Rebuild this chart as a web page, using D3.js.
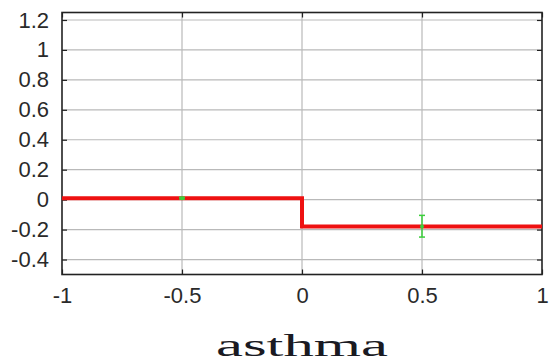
<!DOCTYPE html>
<html>
<head>
<meta charset="utf-8">
<script src="https://cdn.jsdelivr.net/npm/d3@7"></script>
<style>
  body { margin: 0; background: #fff; }
  svg { display: block; }
</style>
</head>
<body>
<svg id="chart" width="551" height="364"></svg>
<script>
'use strict'

// step function (red line)
var stepX = [-1, 0, 1]
var stepY = [0.01, -0.18, -0.18]

// green estimates with error bars
var pointX = [-0.5, 0.5]
var pointY = [0.01, -0.18]
var pointLo = [0.004, -0.25]
var pointHi = [0.016, -0.105]

var xTicks = [-1, -0.5, 0, 0.5, 1]
var yTicks = [-0.4, -0.2, 0, 0.2, 0.4, 0.6, 0.8, 1, 1.2]
var xTitle = 'asthma'

var width = 551
var height = 364
var margin = { top: 12.5, right: 9, bottom: 89.5, left: 62 }
var svg = d3.select('#chart')

var x = d3.scaleLinear()
  .domain([-1, 1])
  .range([margin.left, width - margin.right])
var y = d3.scaleLinear()
  .domain([-0.5, 1.25])
  .range([height - margin.bottom, margin.top])

var fmt = (d) => String(d)

// grid
var grid = svg.append('g').attr('class', 'grid')
grid.selectAll('line.gx')
  .data(xTicks.slice(1, -1))
  .enter().append('line')
    .attr('x1', (d) => x(d)).attr('x2', (d) => x(d))
    .attr('y1', y.range()[0]).attr('y2', y.range()[1])
grid.selectAll('line.gy')
  .data(yTicks)
  .enter().append('line')
    .attr('x1', x.range()[0]).attr('x2', x.range()[1])
    .attr('y1', (d) => y(d)).attr('y2', (d) => y(d))
grid.selectAll('line')
  .attr('stroke', '#b9b9b9')
  .attr('stroke-width', 1.2)

// axes with inward ticks
function styleAxis (g) {
  g.select('.domain').remove()
  g.selectAll('.tick line').attr('stroke', '#222').attr('stroke-width', 1.2)
  g.selectAll('.tick text')
    .attr('fill', '#2a2a2a')
    .style('font-family', '"Liberation Sans", Arial, sans-serif')
    .style('font-size', '22px')
}

svg.append('g')
  .attr('transform', 'translate(0,' + y.range()[0] + ')')
  .call(d3.axisBottom(x).tickValues(xTicks).tickFormat(fmt).tickSizeInner(-5).tickSizeOuter(0).tickPadding(13))
  .call(styleAxis)
  .selectAll('.tick text').attr('dy', '0.71em')

svg.append('g')
  .attr('transform', 'translate(' + x.range()[0] + ',0)')
  .call(d3.axisLeft(y).tickValues(yTicks).tickFormat(fmt).tickSizeInner(-5).tickSizeOuter(0).tickPadding(13))
  .call(styleAxis)

svg.append('g')
  .attr('transform', 'translate(' + x.range()[1] + ',0)')
  .call(d3.axisRight(y).tickValues(yTicks).tickFormat('').tickSizeInner(-5).tickSizeOuter(0))
  .call(styleAxis)

svg.append('g')
  .attr('transform', 'translate(0,' + y.range()[1] + ')')
  .call(d3.axisTop(x).tickValues(xTicks).tickFormat('').tickSizeInner(-5).tickSizeOuter(0))
  .call(styleAxis)

// frame
svg.append('rect')
  .attr('x', x.range()[0])
  .attr('y', y.range()[1])
  .attr('width', x.range()[1] - x.range()[0])
  .attr('height', y.range()[0] - y.range()[1])
  .attr('fill', 'none')
  .attr('stroke', '#222')
  .attr('stroke-width', 1.6)

// red step line
var line = d3.line()
  .x((d, i) => x(stepX[i]))
  .y((d, i) => y(stepY[i]))
  .curve(d3.curveStepAfter)

svg.append('path')
  .datum(stepX)
  .attr('d', line)
  .attr('fill', 'none')
  .attr('stroke', '#ee1111')
  .attr('stroke-width', 4)

// green error bars
var green = '#3ccf3c'
var err = svg.append('g').attr('class', 'errors')
pointX.forEach((px, i) => {
  var cx = x(px)
  err.append('line')
    .attr('x1', cx).attr('x2', cx)
    .attr('y1', y(pointLo[i])).attr('y2', y(pointHi[i]))
  err.append('line')
    .attr('x1', cx - 3).attr('x2', cx + 3)
    .attr('y1', y(pointLo[i])).attr('y2', y(pointLo[i]))
  err.append('line')
    .attr('x1', cx - 3).attr('x2', cx + 3)
    .attr('y1', y(pointHi[i])).attr('y2', y(pointHi[i]))
  err.append('circle')
    .attr('cx', cx).attr('cy', y(pointY[i]))
    .attr('r', 2)
    .attr('fill', green)
})
err.selectAll('line')
  .attr('stroke', green)
  .attr('stroke-width', 1.5)

// x title
svg.append('text')
  .attr('x', (x.range()[0] + x.range()[1]) / 2)
  .attr('y', 356)
  .attr('text-anchor', 'middle')
  .attr('textLength', 172)
  .attr('lengthAdjust', 'spacingAndGlyphs')
  .attr('fill', '#1a1a22')
  .style('font-family', '"Liberation Serif", "Times New Roman", serif')
  .style('font-size', '32px')
  .text(xTitle)
</script>
</body>
</html>
